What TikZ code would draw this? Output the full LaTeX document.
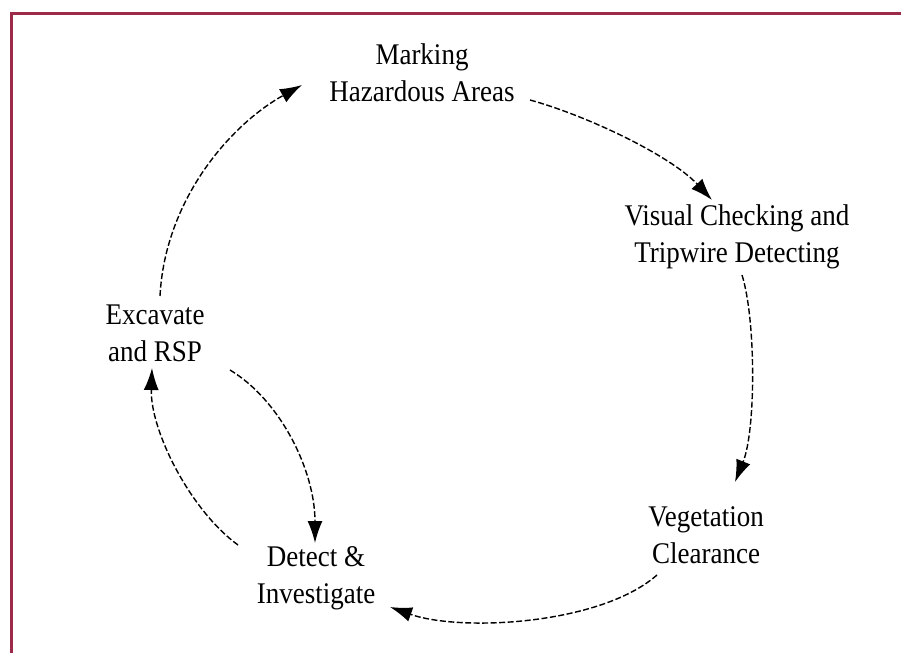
\documentclass[tikz,border=0pt]{standalone}
\usepackage{fontspec}
\setmainfont{Liberation Serif}[FakeStretch=0.9]
\usetikzlibrary{arrows.meta}
\definecolor{framered}{RGB}{158,42,74}
\begin{document}
\begin{tikzpicture}[x=1pt,y=-1pt,
  stage/.style={align=center,inner sep=0pt,font=\fontsize{30}{37}\selectfont},
  flow/.style={line width=1.4pt,dash pattern=on 6pt off 2.5pt,
    -{Latex[length=22pt,width=15pt]}}]
\useasboundingbox (0,0) rectangle (901,653);
% page frame along the top and left edges
\draw[framered,line width=3pt] (11,653) -- (11,13.5) -- (901,13.5);

% stages of the clearance cycle
\node[stage] (mark) at (422,73)  {Marking\\Hazardous Areas};
\node[stage] (visual) at (737,237) {Visual Checking and\\Tripwire Detecting};
\node[stage] (veg) at (706,535) {Vegetation\\Clearance};
\node[stage] (detect) at (316,578) {Detect \&\\Investigate};
\node[stage] (excav) at (155,333) {Excavate\\and RSP};

% cycle connectors
\draw[flow] ([shift={(108,27)}]mark.center)
  .. controls (585,115) and (670,155) .. ([shift={(-25,-37)}]visual.center);
\draw[flow] ([shift={(5,38)}]visual.center)
  .. controls (756,320) and (756,430) .. ([shift={(29,-53)}]veg.center);
\draw[flow] ([shift={(-49,40)}]veg.center)
  .. controls (600,625) and (460,632) .. ([shift={(74,29)}]detect.center);
\draw[flow] ([shift={(-78,-33)}]detect.center)
  .. controls (190,510) and (150,430) .. ([shift={(-3,35)}]excav.center);
\draw[flow] ([shift={(75,37)}]excav.center)
  .. controls (280,400) and (315,470) .. ([shift={(-1,-35)}]detect.center);
\draw[flow] ([shift={(5,-37)}]excav.center)
  .. controls (165,200) and (230,125) .. ([shift={(-120,12)}]mark.center);
\end{tikzpicture}
\end{document}
